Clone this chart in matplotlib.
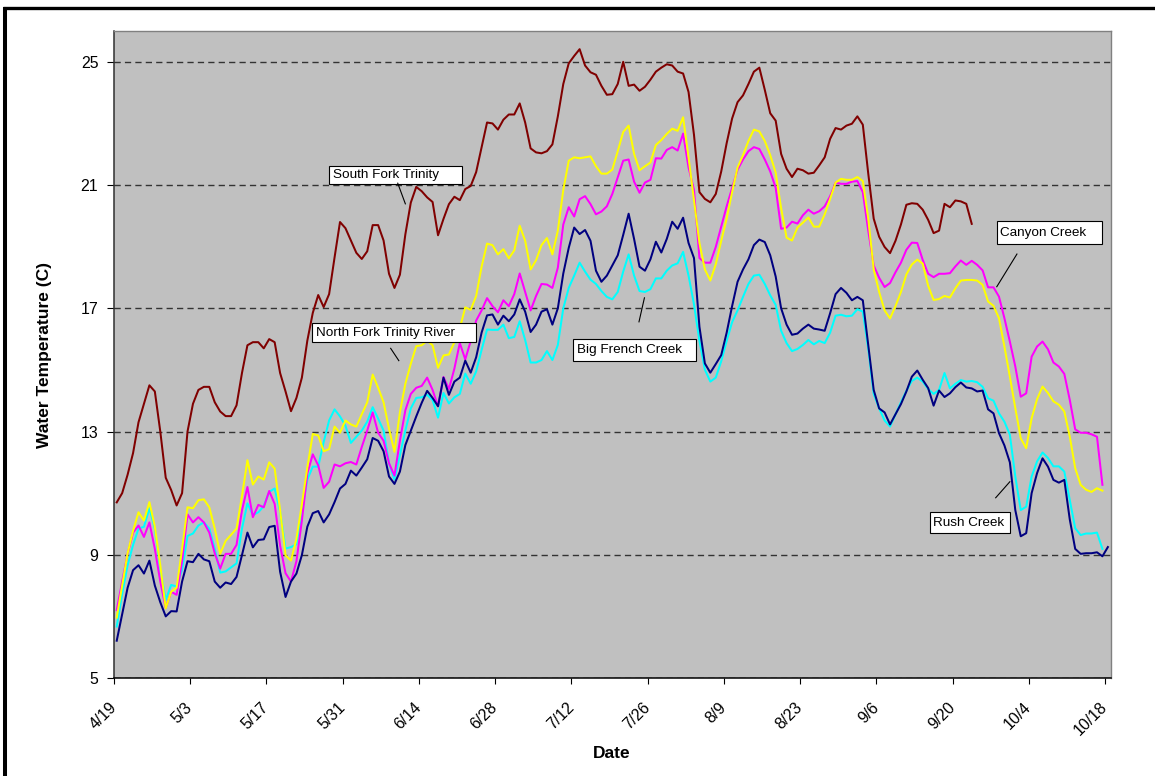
import numpy as np
import matplotlib
matplotlib.use("Agg")
import matplotlib.pyplot as plt
from matplotlib.lines import Line2D
from matplotlib.patches import Rectangle

plt.rcParams['font.family'] = ['Liberation Sans', 'DejaVu Sans']

# Daily mean water temperature (C), one value per day starting 4/19
tick_labels = ['4/19', '5/3', '5/17', '5/31', '6/14', '6/28', '7/12',
               '7/26', '8/9', '8/23', '9/6', '9/20', '10/4', '10/18']

south_fork_trinity = [
    10.7, 11.0, 11.6, 12.3, 13.3, 13.9, 14.5, 14.3, 13.0, 11.5, 11.1, 10.6, 11.0, 13.0, 13.9, 14.35,
    14.45, 14.45, 13.95, 13.65, 13.5, 13.5, 13.85, 14.9, 15.8, 15.9, 15.9, 15.7, 16.0, 15.9, 14.9, 14.3,
    13.66, 14.09, 14.75, 15.95, 16.85, 17.43, 17.04, 17.46, 18.65, 19.8, 19.6, 19.2, 18.8, 18.6,
    18.85, 19.7, 19.7, 19.2, 18.12, 17.66, 18.09, 19.4, 20.43, 20.94, 20.8, 20.6, 20.45, 19.37,
    19.9, 20.38, 20.62,
    20.51, 20.87, 20.97, 21.42, 22.23, 23.03, 23.0, 22.8, 23.12, 23.29, 23.29, 23.65, 23.03, 22.19,
    22.06, 22.03, 22.1, 22.32, 23.23, 24.28, 24.95, 25.19, 25.41, 24.88, 24.66, 24.58, 24.22, 23.93,
    23.95, 24.28, 25.0,
    24.22, 24.26, 24.06, 24.19, 24.42, 24.68, 24.81, 24.92, 24.88, 24.68, 24.62, 24.02, 22.63, 20.77,
    20.55, 20.44, 20.71, 21.44, 22.36, 23.16, 23.69, 23.91, 24.28, 24.68, 24.81, 24.09, 23.33, 23.09,
    22.01, 21.53, 21.26,
    21.53, 21.48, 21.37, 21.4, 21.64, 21.9, 22.5, 22.85, 22.8, 22.93, 22.99, 23.23, 22.96, 21.37,
    19.91, 19.32, 18.99, 18.79, 19.19, 19.72,
    20.36, 20.41, 20.39, 20.2, 19.87, 19.44, 19.52, 20.39, 20.28, 20.5, 20.47, 20.39, 19.74]

north_fork_trinity = [
    6.96, 8.0, 9.05, 9.78, 10.38, 10.11, 10.71, 9.91, 8.66, 7.26, 7.8, 7.93, 9.19, 10.54, 10.51, 10.77,
    10.8, 10.54, 9.85, 9.03, 9.45, 9.65, 9.85, 10.91, 12.07, 11.28, 11.54, 11.44, 12.0, 11.8, 10.45, 8.98,
    8.81, 9.52, 10.64, 11.83, 12.92, 12.87, 12.36, 12.43, 13.16, 12.96, 13.36, 13.23, 13.16, 13.56,
    13.95, 14.85, 14.42, 13.95, 13.09, 12.34, 13.62, 14.55, 15.2, 15.77, 15.8, 15.95, 15.8, 15.07,
    15.47, 15.5, 15.9,
    16.35, 17.03, 16.95, 17.4, 18.35, 19.1, 19.05, 18.75, 18.92, 18.62, 18.88, 19.68, 19.19, 18.26,
    18.56, 19.05, 19.28, 18.75, 19.52, 20.84, 21.79, 21.9, 21.87, 21.9, 21.93, 21.61, 21.37, 21.37,
    21.5, 22.1, 22.72,
    22.93, 22.01, 21.48, 21.61, 21.73, 22.3, 22.46, 22.66, 22.83, 22.76, 23.2, 21.9, 20.51, 19.12,
    18.26, 17.9, 18.43, 19.19, 19.91, 20.77, 21.57, 21.97, 22.43, 22.8, 22.74, 22.43, 21.97, 21.4,
    20.25, 19.29, 19.2,
    19.62, 19.78, 19.95, 19.65, 19.65, 20.05, 20.55, 21.08, 21.2, 21.17, 21.17, 21.26, 21.13, 19.91,
    18.26, 17.53, 16.93, 16.67, 17.07, 17.53, 18.1, 18.42, 18.58, 18.45, 17.73, 17.27, 17.3, 17.4,
    17.35, 17.65, 17.9, 17.92, 17.92,
    17.9, 17.76, 17.22, 17.08, 16.68, 15.76, 14.78, 13.76, 12.78, 12.46, 13.43, 14.05, 14.46, 14.25,
    13.98, 13.87, 13.65, 12.84, 11.81, 11.27, 11.11, 11.04, 11.16, 11.08]

canyon_creek = [
    7.2, 8.13, 9.03, 9.72, 9.95, 9.58, 10.05, 9.19, 8.13, 7.27, 7.8, 7.7, 8.79, 10.31, 10.05, 10.22,
    10.05, 9.72, 9.05, 8.55, 9.03, 9.03, 9.32, 10.44, 11.2, 10.22, 10.62, 10.54, 11.07, 10.65, 9.3, 8.4,
    8.13, 8.79, 10.11, 11.64, 12.26, 11.9, 11.17, 11.37, 11.93, 11.87, 11.97, 12.01, 11.93, 12.5,
    13.03, 13.62, 12.96, 12.7, 11.97, 11.57, 12.7, 13.69, 14.22, 14.42, 14.48, 14.75, 14.35, 13.82,
    14.77, 14.38, 15.04,
    15.87, 15.34, 15.94, 16.6, 16.93, 17.33, 17.07, 16.87, 17.26, 17.07, 17.46, 18.13, 17.53, 16.93,
    17.4, 17.79, 17.77, 17.66, 18.32, 19.72, 20.28, 19.98, 20.54, 20.64, 20.38, 20.05, 20.14, 20.31,
    20.71, 21.25, 21.79,
    21.83, 21.11, 20.75, 21.08, 21.17, 21.87, 21.86, 22.14, 22.23, 22.12, 22.67, 21.57, 20.84, 18.63,
    18.48, 18.48, 18.99, 19.65, 20.31, 20.91, 21.5, 21.83, 22.1, 22.23, 22.17, 21.83, 21.44, 20.91,
    19.58, 19.62, 19.81,
    19.75, 20.02, 20.2, 20.07, 20.15, 20.31, 20.64, 21.08, 21.04, 21.04, 21.11, 21.13, 20.77, 19.52,
    18.39, 17.99, 17.69, 17.82, 18.17, 18.48,
    18.9, 19.13, 19.12, 18.57, 18.12, 18.01, 18.12, 18.12, 18.14, 18.36, 18.55, 18.41, 18.54, 18.41,
    18.23, 17.68, 17.68, 17.38, 16.68, 15.92, 15.11, 14.13, 14.24, 15.43, 15.76, 15.92, 15.67, 15.24,
    15.11, 14.87, 14.03, 13.07, 12.96, 12.96, 12.91, 12.83, 11.27]

big_french_creek = [
    6.67, 7.73, 8.66, 9.32, 9.85, 9.91, 10.51, 9.85, 8.52, 7.53, 8.02, 7.97, 8.52, 9.61, 9.69, 9.95,
    10.05, 9.85, 9.19, 8.42, 8.46, 8.59, 8.72, 9.85, 10.67, 10.29, 10.38, 10.58, 11.04, 11.15, 10.4, 9.2,
    9.25, 9.34, 10.38, 11.44, 11.86, 11.86, 12.66, 13.36, 13.72, 13.49, 13.19, 12.63, 12.83, 13.03,
    13.32, 13.79, 13.42, 13.03, 11.97, 11.44, 12.23, 13.03, 13.75, 14.09, 14.11, 14.19, 14.02, 13.45,
    14.25, 13.91, 14.11,
    14.22, 14.88, 14.55, 14.95, 15.65, 16.31, 16.3, 16.3, 16.47, 16.03, 16.07, 16.58, 15.97, 15.24,
    15.24, 15.32, 15.61, 15.32, 15.81, 17.0, 17.66, 18.06, 18.48, 18.19, 17.93, 17.79, 17.56, 17.37,
    17.29, 17.53, 18.19,
    18.75, 18.06, 17.56, 17.53, 17.62, 17.97, 17.97, 18.22, 18.39, 18.46, 18.83, 18.06, 17.13, 15.94,
    15.01, 14.62, 14.75, 15.28, 15.94, 16.55, 16.93, 17.37, 17.79, 18.06, 18.09, 17.79, 17.42, 17.11,
    16.27, 15.87, 15.61,
    15.68, 15.81, 15.97, 15.83, 15.94, 15.87, 16.21, 16.76, 16.79, 16.74, 16.76, 16.97, 16.89, 15.68,
    14.22, 13.75, 13.36, 13.16, 13.56, 13.95, 14.32, 14.64, 14.75, 14.62, 14.38, 14.22, 14.35,
    14.9, 14.4, 14.55, 14.67, 14.62, 14.64, 14.6, 14.45, 14.08, 14.0, 13.59, 13.32, 12.9, 11.54,
    10.45, 10.56, 11.54, 12.03, 12.32, 12.14, 11.87, 11.87, 11.7, 10.78, 9.86, 9.64, 9.69, 9.69,
    9.72, 9.19]

rush_creek = [
    6.21, 7.07, 7.93, 8.5, 8.66, 8.39, 8.81, 8.0, 7.46, 7.0, 7.17, 7.16, 8.13, 8.79, 8.76, 9.03,
    8.85, 8.79, 8.13, 7.93, 8.1, 8.05, 8.28, 8.99, 9.72, 9.24, 9.48, 9.5, 9.9, 9.94, 8.45, 7.63,
    8.13, 8.39, 8.99, 9.91, 10.35, 10.42, 10.05, 10.31, 10.71, 11.15, 11.3, 11.73, 11.57, 11.83,
    12.1, 12.79, 12.7, 12.36, 11.54, 11.3, 11.7, 12.56, 13.03, 13.49, 13.93, 14.32, 14.09, 13.82,
    14.75, 14.19, 14.62,
    14.75, 15.3, 14.91, 15.41, 16.21, 16.77, 16.8, 16.47, 16.76, 16.58, 16.8, 17.29, 16.89, 16.23,
    16.47, 16.89, 16.97, 16.47, 17.0, 18.13, 18.96, 19.62, 19.41, 19.54, 19.19, 18.22, 17.86, 18.06,
    18.39, 18.72, 19.38,
    20.07, 19.25, 18.35, 18.22, 18.59, 19.16, 18.81, 19.25, 19.81, 19.58, 19.94, 19.12, 18.63, 16.4,
    15.21, 14.91, 15.19, 15.48, 16.21, 17.07, 17.86, 18.26, 18.59, 19.05, 19.23, 19.15, 18.72, 18.03,
    17.0, 16.47, 16.14,
    16.18, 16.34, 16.47, 16.34, 16.31, 16.27, 16.84, 17.46, 17.66, 17.5, 17.26, 17.37, 17.26, 15.81,
    14.35, 13.75, 13.62, 13.23, 13.56, 13.89,
    14.3, 14.78, 14.98, 14.68, 14.41, 13.84, 14.33, 14.12, 14.24, 14.44, 14.59, 14.43, 14.4, 14.3,
    14.33, 13.72, 13.59, 12.95, 12.55, 12.0, 10.45, 9.6, 9.7, 11.0, 11.65, 12.13, 11.86, 11.43,
    11.34, 11.43, 10.15, 9.19, 9.03, 9.05, 9.05, 9.08, 8.95, 9.25]

n_days = 183
y_ticks = [5, 9, 13, 17, 21, 25]

fig = plt.figure(figsize=(11.55, 7.76), dpi=100)
ax = fig.add_axes([114 / 1155, 98 / 776, 996.6 / 1155, 647 / 776])
ax.set_facecolor('#C0C0C0')
ax.set_xlim(-0.5, n_days - 0.5)
ax.set_ylim(5, 26)

ax.set_yticks(y_ticks)
ax.set_yticklabels([str(v) for v in y_ticks], fontsize=11.4)
ax.set_xticks(np.arange(0, n_days, 14) - 0.5)
ax.set_xticklabels(tick_labels, fontsize=11.4, rotation=45, ha='right',
                   va='center', rotation_mode='anchor')
ax.tick_params(axis='y', direction='out', length=5, width=0.8, pad=6.3, colors='black')
ax.tick_params(axis='x', direction='out', length=4, width=0.8, pad=15.4, colors='black')

ax.set_axisbelow(True)
ax.yaxis.grid(True, color='#333333', lw=1.0, linestyle=(0, (4.5, 3.0)))

for side in ('top', 'right'):
    ax.spines[side].set_color('#808080')
    ax.spines[side].set_linewidth(1.0)
ax.spines['left'].set_color('#303030')
ax.spines['left'].set_linewidth(1.1)
ax.spines['bottom'].set_color('black')
ax.spines['bottom'].set_linewidth(1.1)

series = [
    (big_french_creek, '#00FFFF'),
    (canyon_creek, '#FF00FF'),
    (north_fork_trinity, '#FFFF00'),
    (rush_creek, '#000080'),
    (south_fork_trinity, '#800000'),
]
for vals, color in series:
    ax.plot(np.arange(len(vals)), vals, color=color, lw=1.45, zorder=3)


def callout(text, box, text_xy, leader):
    x0, x1, y0, y1 = box
    ax.add_patch(Rectangle((x0, y0), x1 - x0, y1 - y0, facecolor='white',
                           edgecolor='black', lw=0.8, zorder=5))
    ax.text(text_xy[0], text_xy[1], text, ha='left', va='center',
            fontsize=9.7, zorder=6)
    ax.plot(leader[0], leader[1], color='black', lw=0.8, zorder=5)


callout('South Fork Trinity', (39.0, 63.4, 21.04, 21.62), (39.7, 21.31),
        ([51.6, 53.0], [21.06, 20.39]))
callout('North Fork Trinity River', (35.9, 66.0, 15.91, 16.53), (36.6, 16.2),
        ([50.3, 51.8], [15.70, 15.30]))
callout('Big French Creek', (83.8, 106.4, 15.29, 16.0), (84.5, 15.63),
        ([96.9, 95.9], [17.34, 16.56]))
callout('Canyon Creek', (161.6, 180.9, 19.09, 19.84), (162.2, 19.45),
        ([165.3, 161.6], [18.76, 17.70]))
callout('Rush Creek', (149.3, 164.0, 9.71, 10.39), (149.9, 10.04),
        ([164.0, 161.4], [11.37, 10.85]))

fig.text(45 / 1155, 1 - 355 / 776, 'Water Temperature (C)', rotation=90,
         ha='center', va='center', fontsize=12.5, fontweight='bold')
fig.text(612 / 1155, 1 - 754 / 776, 'Date', ha='center', va='center',
         fontsize=12.5, fontweight='bold')

# outer chart frame (left and top edges)
fig.add_artist(Line2D([5.3 / 1155, 5.3 / 1155], [0, 1 - 6.5 / 776],
                      transform=fig.transFigure, color='black', lw=2.9,
                      solid_capstyle='butt'))
fig.add_artist(Line2D([3.3 / 1155, 1], [1 - 8.3 / 776, 1 - 8.3 / 776],
                      transform=fig.transFigure, color='black', lw=2.4,
                      solid_capstyle='butt'))

fig.savefig('out.png', dpi=100, facecolor='white')
